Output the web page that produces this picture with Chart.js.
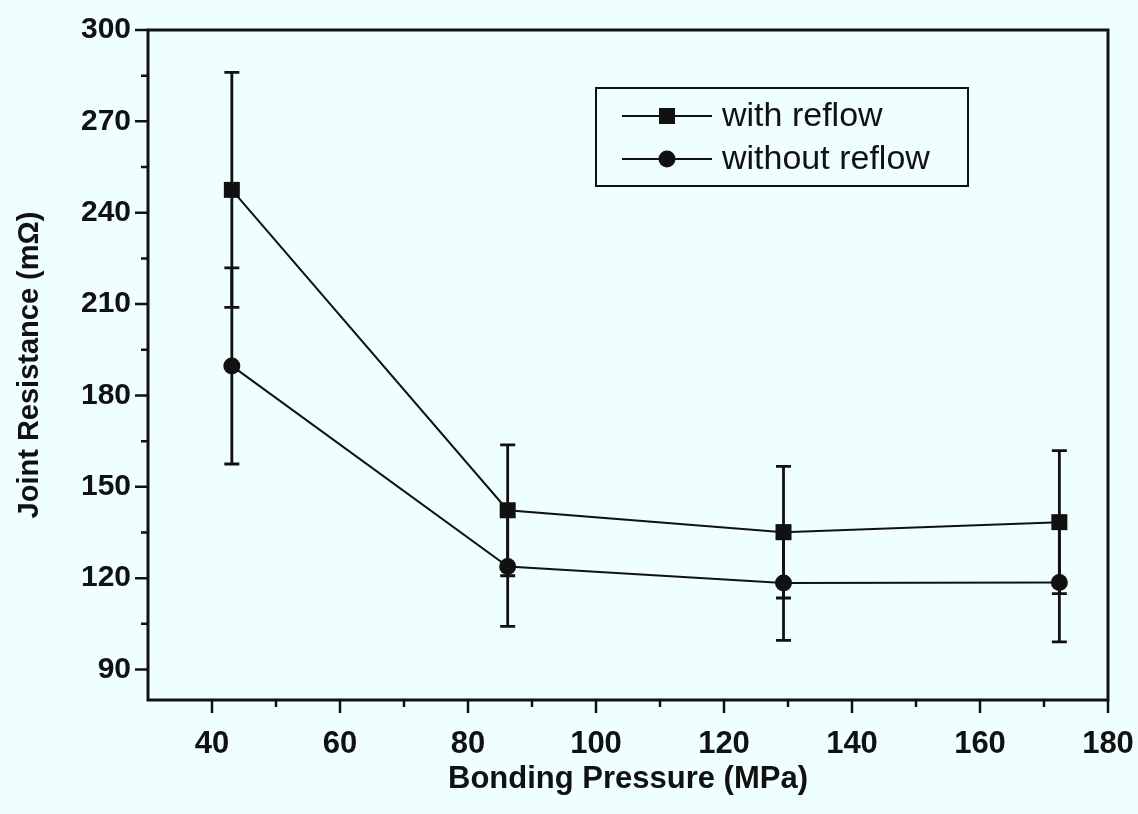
<!DOCTYPE html>
<html>
<head>
<meta charset="utf-8">
<title>Joint Resistance vs Bonding Pressure</title>
<script src="https://cdn.jsdelivr.net/npm/chart.js@4.4.1/dist/chart.umd.min.js"></script>
<style>
  html, body { margin: 0; padding: 0; background: #effefe; }
  canvas { display: block; }
</style>
</head>
<body>
<canvas id="resistanceChart" width="1138" height="814"></canvas>
<script>
// Data
const pressure = [43.1, 86.2, 129.3, 172.4];
const withReflow = [247.5, 142.3, 135.1, 138.4];
const withReflowErr = [38.6, 21.5, 21.6, 23.5];
const withoutReflow = [189.7, 123.8, 118.4, 118.6];
const withoutReflowErr = [32.2, 19.6, 18.8, 19.5];
const seriesNames = ['with reflow', 'without reflow'];

// Axis ticks
const xTicks = [40, 60, 80, 100, 120, 140, 160, 180];
const xMinorTicks = [50, 70, 90, 110, 130, 150, 170];
const yTicks = [90, 120, 150, 180, 210, 240, 270, 300];
const yMinorTicks = [105, 135, 165, 195, 225, 255, 285];

const ink = '#111';
const fontFamily = "'Liberation Sans', Arial, Helvetica, sans-serif";

// Paint the pale background
const backgroundPlugin = {
    id: 'background',
    beforeDraw(chart) {
        const ctx = chart.ctx;
        ctx.save();
        ctx.fillStyle = '#effefe';
        ctx.fillRect(0, 0, chart.width, chart.height);
        ctx.restore();
    }
};

// Vertical error bars with caps
const errorBarPlugin = {
    id: 'errorBars',
    beforeDatasetsDraw(chart) {
        const { ctx, scales: { x, y } } = chart;
        const sets = [[withReflow, withReflowErr], [withoutReflow, withoutReflowErr]];
        ctx.save();
        ctx.strokeStyle = ink;
        ctx.lineWidth = 2.8;
        sets.forEach(([vals, errs]) => {
            vals.forEach((v, i) => {
                const px = x.getPixelForValue(pressure[i]);
                const top = y.getPixelForValue(v + errs[i]);
                const bot = y.getPixelForValue(v - errs[i]);
                ctx.beginPath();
                ctx.moveTo(px, top);
                ctx.lineTo(px, bot);
                ctx.moveTo(px - 7.5, top);
                ctx.lineTo(px + 7.5, top);
                ctx.moveTo(px - 7.5, bot);
                ctx.lineTo(px + 7.5, bot);
                ctx.stroke();
            });
        });
        ctx.restore();
    }
};

// Frame box plus outward major/minor ticks on bottom and left
const framePlugin = {
    id: 'frame',
    afterDraw(chart) {
        const { ctx, chartArea: a, scales: { x, y } } = chart;
        ctx.save();
        ctx.strokeStyle = ink;
        ctx.lineWidth = 3;
        ctx.strokeRect(a.left, a.top, a.right - a.left, a.bottom - a.top);

        ctx.lineWidth = 2.5;
        ctx.beginPath();
        xTicks.forEach(v => {
            const px = x.getPixelForValue(v);
            ctx.moveTo(px, a.bottom);
            ctx.lineTo(px, a.bottom + 13);
        });
        xMinorTicks.forEach(v => {
            const px = x.getPixelForValue(v);
            ctx.moveTo(px, a.bottom);
            ctx.lineTo(px, a.bottom + 7);
        });
        yTicks.forEach(v => {
            const py = y.getPixelForValue(v);
            ctx.moveTo(a.left, py);
            ctx.lineTo(a.left - 13, py);
        });
        yMinorTicks.forEach(v => {
            const py = y.getPixelForValue(v);
            ctx.moveTo(a.left, py);
            ctx.lineTo(a.left - 7, py);
        });
        ctx.stroke();
        ctx.restore();
    }
};

// Boxed legend in the upper right
const legendBoxPlugin = {
    id: 'legendBox',
    afterDraw(chart) {
        const ctx = chart.ctx;
        const box = { x: 596, y: 88, w: 372, h: 98 };
        ctx.save();
        ctx.strokeStyle = ink;
        ctx.lineWidth = 2;
        ctx.strokeRect(box.x, box.y, box.w, box.h);

        const rows = [116, 159];
        chart.data.datasets.forEach((ds, i) => {
            const cy = rows[i];
            ctx.beginPath();
            ctx.lineWidth = 2;
            ctx.moveTo(622, cy);
            ctx.lineTo(712, cy);
            ctx.stroke();
            ctx.fillStyle = ink;
            if (ds.pointStyle === 'rect') {
                ctx.fillRect(667 - 8, cy - 8, 16, 16);
            } else {
                ctx.beginPath();
                ctx.arc(667, cy, 8.5, 0, Math.PI * 2);
                ctx.fill();
            }
            ctx.font = '34px ' + fontFamily;
            ctx.textBaseline = 'middle';
            ctx.textAlign = 'left';
            ctx.fillText(seriesNames[i], 722, cy + 1);
        });
        ctx.restore();
    }
};

const ctx = document.getElementById('resistanceChart').getContext('2d');
const resistanceChart = new Chart(ctx, {
    type: 'line',
    data: {
        datasets: [{
            label: seriesNames[0],
            data: pressure.map((p, i) => ({ x: p, y: withReflow[i] })),
            borderColor: ink,
            borderWidth: 2,
            backgroundColor: ink,
            pointStyle: 'rect',
            pointRadius: 11.3,
            pointBorderWidth: 0,
            tension: 0
        }, {
            label: seriesNames[1],
            data: pressure.map((p, i) => ({ x: p, y: withoutReflow[i] })),
            borderColor: ink,
            borderWidth: 2,
            backgroundColor: ink,
            pointStyle: 'circle',
            pointRadius: 8.5,
            pointBorderWidth: 0,
            tension: 0
        }]
    },
    options: {
        responsive: false,
        animation: false,
        devicePixelRatio: 1,
        layout: {
            padding: { top: 30, right: 30, left: 0, bottom: 0 }
        },
        plugins: {
            legend: { display: false },
            tooltip: { enabled: false }
        },
        scales: {
            x: {
                type: 'linear',
                min: 30,
                max: 180,
                grid: { display: false, drawTicks: false, tickLength: 0 },
                border: { display: false },
                afterBuildTicks: scale => {
                    scale.ticks = xTicks.map(v => ({ value: v }));
                },
                afterFit: scale => {
                    // fixed band below the plot, no extra label overhang padding
                    scale.height = 114;
                    scale.paddingLeft = 0;
                    scale.paddingRight = 0;
                },
                ticks: {
                    color: ink,
                    padding: 26,
                    maxRotation: 0,
                    font: { family: fontFamily, size: 31, weight: 'bold' }
                },
                title: {
                    display: true,
                    text: 'Bonding Pressure (MPa)',
                    color: ink,
                    padding: { top: 0, bottom: 16 },
                    font: { family: fontFamily, size: 31, weight: 'bold' }
                }
            },
            y: {
                type: 'linear',
                min: 80,
                max: 300,
                grid: { display: false, drawTicks: false, tickLength: 0 },
                border: { display: false },
                afterBuildTicks: scale => {
                    scale.ticks = yTicks.map(v => ({ value: v }));
                },
                afterFit: scale => {
                    scale.width = 148;
                    scale.paddingTop = 0;
                    scale.paddingBottom = 0;
                },
                ticks: {
                    color: ink,
                    padding: 17,
                    font: { family: fontFamily, size: 30, weight: 'bold' }
                },
                title: {
                    display: true,
                    text: 'Joint Resistance (mΩ)',
                    color: ink,
                    padding: { top: 13, bottom: 0 },
                    font: { family: fontFamily, size: 29, weight: 'bold' }
                }
            }
        }
    },
    plugins: [backgroundPlugin, errorBarPlugin, framePlugin, legendBoxPlugin]
});
</script>
</body>
</html>
